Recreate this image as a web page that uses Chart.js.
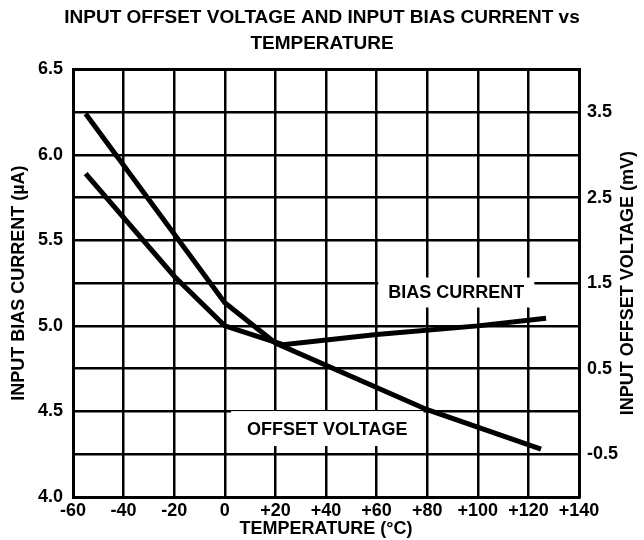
<!DOCTYPE html>
<html>
<head>
<meta charset="utf-8">
<script src="https://cdn.jsdelivr.net/npm/chart.js@4.4.0/dist/chart.umd.min.js"></script>
<style>
    body { margin: 0; background: #fff; }
</style>
</head>
<body>
<canvas id="myChart" width="644" height="540"></canvas>
<script>
// values
const biasTemps = [-55, -20, 0, 23, 60, 100, 127];
const biasCurrent = [5.89, 5.29, 5.0, 4.89, 4.95, 5.0, 5.045];     // uA, left axis
const offsetTemps = [-55, 0, 20, 80, 125];
const offsetVoltage = [3.48, 1.27, 0.8, 0.02, -0.44];               // mV, right axis

const titleLines = ['INPUT OFFSET VOLTAGE AND INPUT BIAS CURRENT vs', 'TEMPERATURE'];
const curveLabels = ['BIAS CURRENT', 'OFFSET VOLTAGE'];
const rightTitle = 'INPUT OFFSET VOLTAGE (mV)';

const FONT = 'Liberation Sans, Arial, Helvetica, sans-serif';

// in-plot labels with a white box behind them
const labelPlugin = {
    id: 'curveLabels',
    beforeDatasetsDraw(chart) {
        const {ctx, scales: {x, y}} = chart;
        const spots = [
            {text: curveLabels[0], t: 91.5, v: 5.195, padX: 10, h: 30},
            {text: curveLabels[1], t: 40.5, v: 4.40, padX: 16, h: 35}
        ];
        ctx.save();
        ctx.font = 'bold 18px ' + FONT;
        ctx.textAlign = 'center';
        ctx.textBaseline = 'middle';
        spots.forEach(s => {
            const cx = x.getPixelForValue(s.t);
            const cy = y.getPixelForValue(s.v);
            const w = ctx.measureText(s.text).width + s.padX * 2;
            ctx.fillStyle = '#fff';
            ctx.fillRect(cx - w / 2, cy - s.h / 2, w, s.h);
            ctx.fillStyle = '#000';
            ctx.fillText(s.text, cx, cy + 1);
        });
        ctx.restore();
    },
    // right axis title reads bottom-to-top in the reference
    afterDraw(chart) {
        const {ctx, chartArea} = chart;
        ctx.save();
        ctx.font = 'bold 18px ' + FONT;
        ctx.fillStyle = '#000';
        ctx.textAlign = 'center';
        ctx.textBaseline = 'middle';
        ctx.translate(chart.width - 16, (chartArea.top + chartArea.bottom) / 2);
        ctx.rotate(-Math.PI / 2);
        ctx.fillText(rightTitle, 0, 0);
        ctx.restore();
    }
};

const ctx = document.getElementById('myChart').getContext('2d');
new Chart(ctx, {
    type: 'line',
    data: {
        datasets: [
            {
                label: 'Bias current',
                data: biasTemps.map((t, i) => ({x: t, y: biasCurrent[i]})),
                yAxisID: 'y',
                borderColor: '#000',
                borderWidth: 5,
                pointRadius: 0,
                borderCapStyle: 'butt',
                borderJoinStyle: 'miter',
                tension: 0
            },
            {
                label: 'Offset voltage',
                data: offsetTemps.map((t, i) => ({x: t, y: offsetVoltage[i]})),
                yAxisID: 'y1',
                borderColor: '#000',
                borderWidth: 5,
                pointRadius: 0,
                borderCapStyle: 'butt',
                borderJoinStyle: 'miter',
                tension: 0
            }
        ]
    },
    options: {
        responsive: false,
        animation: false,
        events: [],
        plugins: {
            legend: {display: false},
            tooltip: {enabled: false},
            title: {
                display: true,
                text: titleLines,
                color: '#000',
                font: {family: FONT, size: 19, weight: 'bold', lineHeight: 1.4},
                padding: {top: 4, bottom: 12}
            }
        },
        scales: {
            x: {
                type: 'linear',
                min: -60,
                max: 140,
                afterFit: s => { s.height = 43; },
                ticks: {
                    stepSize: 20,
                    color: '#000',
                    padding: 3,
                    font: {family: FONT, size: 18, weight: 'bold'},
                    maxRotation: 0,
                    callback: v => v > 0 ? '+' + v : '' + v
                },
                grid: {color: '#000', lineWidth: 2.5, drawTicks: false},
                border: {color: '#000', width: 3},
                title: {
                    display: true,
                    text: 'TEMPERATURE (°C)',
                    color: '#000',
                    font: {family: FONT, size: 18, weight: 'bold', lineHeight: 1.2},
                    padding: {top: 0, bottom: 0}
                }
            },
            y: {
                position: 'left',
                min: 4.0,
                max: 6.5,
                afterFit: s => { s.width = 73; },
                ticks: {
                    stepSize: 0.25,
                    color: '#000',
                    padding: 10,
                    font: {family: FONT, size: 18, weight: 'bold'},
                    callback: v => (Math.round(v * 100) % 50 === 0) ? v.toFixed(1) : ''
                },
                grid: {
                    color: '#000',
                    lineWidth: c => c.tick && c.tick.value === 6.5 ? 3 : 2.5,
                    drawTicks: false
                },
                border: {color: '#000', width: 3},
                title: {
                    display: true,
                    text: 'INPUT BIAS CURRENT (µA)',
                    color: '#000',
                    font: {family: FONT, size: 18, weight: 'bold', lineHeight: 1.2},
                    padding: {top: 8, bottom: 0}
                }
            },
            y1: {
                position: 'right',
                min: -1,
                max: 4,
                afterFit: s => { s.width = 65; },
                ticks: {
                    stepSize: 0.5,
                    color: '#000',
                    padding: 8,
                    font: {family: FONT, size: 18, weight: 'bold'},
                    callback: v => (Math.round(Math.abs(v) * 10) % 10 === 5) ? v.toFixed(1) : ''
                },
                grid: {display: false, drawTicks: false},
                border: {color: '#000', width: 3}
            }
        }
    },
    plugins: [labelPlugin]
});
</script>
</body>
</html>
